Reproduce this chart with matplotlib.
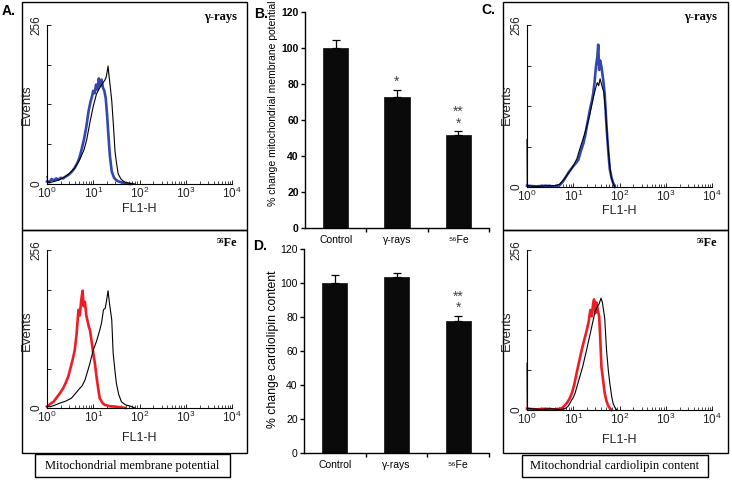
import numpy as np
import matplotlib
matplotlib.use("Agg")
import matplotlib.pyplot as plt
from matplotlib.patches import Rectangle
from matplotlib.ticker import NullFormatter

plt.rcParams['font.family'] = ['Liberation Sans', 'DejaVu Sans']
plt.rcParams['mathtext.fontset'] = 'custom'
plt.rcParams['mathtext.rm'] = 'Liberation Sans'

W, H = 732, 480

# ---- flow cytometry histograms (log10 of FL1-H, events) ----
# A, gamma-rays
a_gam_black_x = [0.00, 0.02, 0.05, 0.10, 0.20, 0.30, 0.40, 0.50, 0.60, 0.70, 0.80, 0.86, 0.93, 1.00, 1.07,
                 1.14, 1.20, 1.25, 1.28, 1.30, 1.32, 1.34, 1.37, 1.40, 1.44, 1.47, 1.50, 1.54, 1.60, 1.66,
                 1.72, 1.80, 1.90]
a_gam_black_y = [12, 3, 2, 3, 5, 8, 12, 18, 26, 38, 55, 72, 100, 125, 145, 155, 162, 167, 172, 180, 190, 175,
                 155, 134, 90, 53, 35, 16, 8, 4, 2, 1, 0]
a_gam_blue_x = [0.00, 0.05, 0.10, 0.15, 0.20, 0.25, 0.30, 0.35, 0.40, 0.45, 0.50, 0.55, 0.60, 0.65, 0.70,
                0.75, 0.80, 0.85, 0.90, 0.94, 0.97, 1.00, 1.03, 1.06, 1.09, 1.12, 1.15, 1.18, 1.21, 1.24,
                1.27, 1.30, 1.33, 1.36, 1.40, 1.45, 1.50, 1.55, 1.60, 1.70, 1.80]
a_gam_blue_y = [4, 3, 8, 6, 9, 7, 10, 9, 12, 14, 17, 21, 26, 33, 42, 56, 72, 92, 118, 132, 140, 150, 146,
                160, 152, 170, 158, 168, 155, 150, 138, 110, 76, 45, 20, 10, 6, 4, 3, 1, 0]
# A, 56Fe
a_fe_black_x = [0.00, 0.07, 0.15, 0.28, 0.40, 0.53, 0.62, 0.71, 0.76, 0.82, 0.88, 0.93, 1.00, 1.07, 1.14,
                1.18, 1.22, 1.26, 1.29, 1.32, 1.35, 1.40, 1.43, 1.47, 1.50, 1.55, 1.61, 1.70, 1.80, 1.90]
a_fe_black_y = [3, 2, 4, 8, 11, 16, 24, 32, 36, 45, 60, 73, 94, 108, 126, 138, 159, 162, 175, 190, 170,
                143, 89, 60, 40, 22, 10, 5, 3, 0]
a_fe_red_x = [0.00, 0.03, 0.08, 0.14, 0.20, 0.28, 0.35, 0.40, 0.46, 0.52, 0.56, 0.60, 0.64, 0.68, 0.71,
              0.74, 0.77, 0.79, 0.82, 0.85, 0.88, 0.91, 0.93, 0.97, 1.00, 1.04, 1.07, 1.11, 1.14, 1.20,
              1.25, 1.35, 1.50, 1.70]
a_fe_red_y = [2, 4, 7, 10, 16, 24, 32, 40, 51, 68, 80, 94, 120, 159, 150, 175, 190, 165, 172, 150, 140,
              130, 126, 105, 89, 70, 51, 30, 16, 8, 5, 3, 2, 0]
# C, gamma-rays
c_gam_black_x = [0.00, 0.005, 0.02, 0.20, 0.40, 0.60, 0.70, 0.80, 0.90, 1.00, 1.08, 1.15, 1.22, 1.29, 1.36,
                 1.43, 1.48, 1.52, 1.55, 1.58, 1.62, 1.66, 1.70, 1.74, 1.78, 1.82, 1.86, 1.90]
c_gam_black_y = [75, 3, 2, 1, 2, 2, 4, 12, 22, 33, 45, 62, 78, 95, 115, 140, 155, 165, 160, 171, 160, 150,
                 120, 75, 40, 16, 6, 0]
c_gam_blue_x = [0.00, 0.20, 0.40, 0.60, 0.71, 0.78, 0.84, 0.89, 0.95, 1.00, 1.06, 1.11, 1.17, 1.22, 1.26,
                1.29, 1.33, 1.36, 1.40, 1.43, 1.46, 1.49, 1.52, 1.54, 1.56, 1.58, 1.61, 1.65, 1.68, 1.72,
                1.76, 1.79, 1.83, 1.86, 1.90]
c_gam_blue_y = [2, 1, 2, 1, 3, 9, 16, 22, 28, 33, 38, 43, 58, 69, 82, 95, 110, 122, 135, 147, 165, 190,
                205, 225, 185, 200, 190, 168, 147, 95, 54, 28, 14, 7, 0]
# C, 56Fe
c_fe_black_x = [0.00, 0.005, 0.10, 0.30, 0.50, 0.70, 0.78, 0.84, 0.89, 0.95, 1.00, 1.04, 1.09, 1.14, 1.20,
                1.25, 1.30, 1.36, 1.42, 1.47, 1.52, 1.56, 1.60, 1.63, 1.68, 1.72, 1.76, 1.79, 1.83, 1.86,
                1.90, 1.94]
c_fe_black_y = [75, 3, 2, 1, 2, 1, 1, 3, 6, 14, 20, 27, 40, 53, 68, 84, 100, 120, 140, 157, 165, 170, 179,
                172, 147, 95, 62, 43, 22, 11, 4, 0]
c_fe_red_x = [0.00, 0.20, 0.40, 0.60, 0.70, 0.75, 0.80, 0.86, 0.92, 0.97, 1.02, 1.07, 1.12, 1.18, 1.23,
              1.29, 1.33, 1.37, 1.40, 1.43, 1.45, 1.48, 1.50, 1.53, 1.56, 1.58, 1.61, 1.65, 1.68, 1.72,
              1.76, 1.80, 1.83]
c_fe_red_y = [2, 1, 2, 1, 2, 3, 6, 11, 18, 27, 40, 58, 75, 95, 110, 127, 140, 160, 150, 170, 177, 155, 172,
              160, 150, 121, 69, 45, 27, 14, 6, 2, 0]

# ---- bar charts ----
categories = ['Control', '\u03b3-rays', '\u2075\u2076Fe']
mmp_values = [100, 73, 51.7]
mmp_err = [4.4, 3.7, 2.2]
mmp_stars = ['', '*', '**\n*']
cl_values = [100, 103.3, 77.8]
cl_err = [4.9, 2.6, 3.0]
cl_stars = ['', '', '**\n*']

BLUE = '#3347b0'
RED = '#ee1c24'

fig = plt.figure(figsize=(W / 100, H / 100), dpi=100)
fig.patch.set_facecolor('white')


def px_axes(l, t, r, b):
    return fig.add_axes([l / W, 1 - b / H, (r - l) / W, (b - t) / H])


def ftext(x, y, s, **kw):
    fig.text(x / W, 1 - y / H, s, **kw)


def frame(l, t, r, b):
    fig.add_artist(Rectangle((l / W, 1 - b / H), (r - l) / W, (b - t) / H, transform=fig.transFigure,
                             fill=False, edgecolor='black', linewidth=1.0))


def histo(rect, bx, by, cx, cy, color, label, xoff, ytop, fl_y):
    ax = px_axes(*rect)
    ax.plot(10 ** np.array(bx), by, color='black', lw=0.8, clip_on=False, zorder=3)
    ax.plot(10 ** np.array(cx), cy, color=color, lw=1.9, clip_on=False, zorder=2)
    ax.set_xscale('log')
    ax.set_xlim(1, 1e4)
    ax.set_ylim(0, 256)
    for s in ['top', 'right']:
        ax.spines[s].set_visible(False)
    for s in ['left', 'bottom']:
        ax.spines[s].set_linewidth(0.8)
    ax.set_yticks([0, 64, 128, 192, 256])
    ax.set_yticklabels(['0', '', '', '', '256'], rotation=90, va='center', fontsize=9, color='#222222')
    ax.set_xticks([1, 10, 100, 1000, 10000])
    ax.tick_params(axis='both', which='major', direction='in', length=3, width=0.7, labelsize=8.5,
                   colors='#222222')
    ax.tick_params(axis='x', which='minor', direction='in', length=2, width=0.5)
    ax.xaxis.set_minor_formatter(NullFormatter())
    ax.tick_params(axis='y', pad=3)
    ax.tick_params(axis='x', pad=1.5)
    ftext(xoff + 27, ytop + 80, 'Events', rotation=90, ha='center', va='center', fontsize=9.5,
          color='#222222')
    ftext(xoff + 139, fl_y, 'FL1-H', ha='center', va='center', fontsize=9, color='#222222')
    ftext(xoff + 237, ytop - 8, label, ha='right', va='center', fontsize=9, fontweight='bold',
          family=['Liberation Serif', 'DejaVu Serif'])
    return ax


frame(22, 2, 247, 230)
frame(22, 230, 247, 453)
frame(503, 2, 728, 230)
frame(503, 230, 728, 453)

histo((47, 25, 232, 184), a_gam_black_x, a_gam_black_y, a_gam_blue_x, a_gam_blue_y, BLUE,
      '\u03b3-rays', 0, 25, 209)
histo((47, 250, 232, 408), a_fe_black_x, a_fe_black_y, a_fe_red_x, a_fe_red_y, RED,
      '\u2075\u2076Fe', 0, 251, 438)
histo((527, 25, 712, 187), c_gam_black_x, c_gam_black_y, c_gam_blue_x, c_gam_blue_y, BLUE,
      '\u03b3-rays', 480, 25, 211)
histo((527, 250, 712, 410), c_fe_black_x, c_fe_black_y, c_fe_red_x, c_fe_red_y, RED,
      '\u2075\u2076Fe', 480, 251, 440)


def bars(rect, values, errs, stars, bold_ticks):
    ax = px_axes(*rect)
    x = np.arange(len(values))
    ax.bar(x, values, width=0.41, color='#0a0a0a', edgecolor='#0a0a0a', linewidth=0.5, zorder=2)
    ax.errorbar(x, values, yerr=[[0] * len(errs), errs], fmt='none', ecolor='black', elinewidth=0.9,
                capsize=3.2, capthick=0.9, zorder=3)
    for xi, v, e, s in zip(x, values, errs, stars):
        if s:
            ax.annotate(s, (xi, v + e), xytext=(0, 0.5), textcoords='offset points', ha='center',
                        va='bottom', fontsize=10, color='#444444', linespacing=0.75)
    ax.set_xlim(-0.5, 2.5)
    ax.set_ylim(0, 120)
    ax.set_yticks(range(0, 121, 20))
    ax.set_xticks([0.5, 1.5, 2.5])
    ax.set_xticklabels([])
    for xi, c in zip(x, categories):
        ax.text(xi, -4, c, transform=ax.transData, ha='center', va='top', fontsize=7.5)
    for s in ['top', 'right']:
        ax.spines[s].set_visible(False)
    ax.spines['left'].set_linewidth(1.0)
    ax.spines['bottom'].set_linewidth(1.0)
    ax.tick_params(axis='y', direction='out', length=3, width=1, labelsize=7.5, pad=1.5)
    ax.tick_params(axis='x', direction='out', length=3, width=1)
    if bold_ticks:
        for t in ax.get_yticklabels():
            t.set_fontweight('bold')
    return ax


bars((305, 12, 489, 228), mmp_values, mmp_err, mmp_stars, True)
bars((304, 249, 489, 453), cl_values, cl_err, cl_stars, False)

ftext(273, 103, '% change mitochondrial membrane potential', rotation=90, ha='center', va='center',
      fontsize=7.5)
ftext(273, 349, '% change cardiolipin content', rotation=90, ha='center', va='center', fontsize=8.8)

ftext(9, 11, 'A.', ha='center', va='center', fontsize=10, fontweight='bold')
ftext(261, 14, 'B.', ha='center', va='center', fontsize=10, fontweight='bold')
ftext(488, 10, 'C.', ha='center', va='center', fontsize=10, fontweight='bold')
ftext(260, 246, 'D.', ha='center', va='center', fontsize=10, fontweight='bold')

# caption boxes
frame(35, 454, 230, 477)
frame(522, 455, 708, 477)
ftext(132, 466, 'Mitochondrial membrane potential', ha='center', va='center', fontsize=9,
      family=['Liberation Serif', 'DejaVu Serif'])
ftext(615, 466, 'Mitochondrial cardiolipin content', ha='center', va='center', fontsize=9,
      family=['Liberation Serif', 'DejaVu Serif'])

fig.savefig('out.png', dpi=100)
